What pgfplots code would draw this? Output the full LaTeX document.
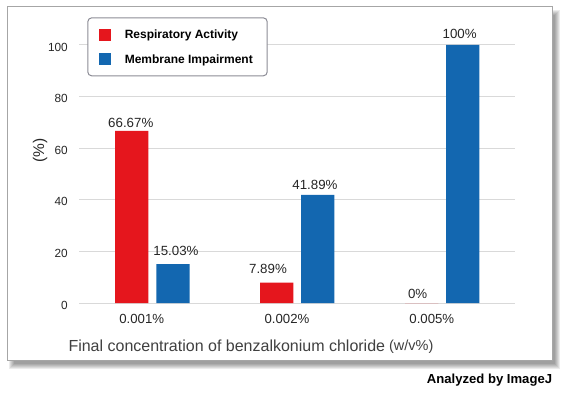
\documentclass[border=0pt]{standalone}
\usepackage{pgfplots}
\pgfplotsset{compat=1.18}
\usepackage{fontspec}
\setmainfont{Liberation Sans}
\definecolor{barred}{HTML}{E5161D}
\definecolor{barblue}{HTML}{1367B0}
\definecolor{gridgray}{HTML}{D9D9D9}
\definecolor{framegray}{HTML}{A6A6A6}
\definecolor{legframe}{HTML}{8C8C96}
\definecolor{txt}{HTML}{262626}
\definecolor{xlab}{HTML}{404040}
\begin{document}
\begin{tikzpicture}[x=1bp,y=1bp]
\useasboundingbox (0,0) rectangle (564,395);
% drop shadow of the frame
\foreach \r in {3,2,1,0,-1,-2}{
  \fill[black,opacity=0.075] (12-\r,29-\r) rectangle (557+\r,382+\r);
}
\fill[white] (7,35) rectangle (552,388);
\draw[framegray,line width=1bp] (7,35) rectangle (552,388);
\begin{axis}[
  at={(79bp,92bp)}, anchor=south west,
  scale only axis, width=436bp, height=258bp,
  xmin=79, xmax=515, ymin=0, ymax=100,
  clip=false,
  axis line style={draw=none},
  major tick length=0pt,
  ytick={0,20,...,100},
  ymajorgrids,
  grid style={gridgray,line width=1bp},
  xtick={141.7,287,431.8},
  xticklabels={0.001\%,0.002\%,0.005\%},
  /pgf/number format/assume math mode=true,
  yticklabel style={font=\fontsize{11.8bp}{14bp}\selectfont, text=txt, inner sep=0pt, xshift=-11bp, yshift=-2bp},
  xticklabel style={font=\fontsize{13.2bp}{15bp}\selectfont, text=txt, inner sep=0pt, yshift=-11.5bp},
  xlabel={Final concentration of benzalkonium chloride\hspace{4bp}\raisebox{1.5bp}{\fontsize{14.5bp}{16bp}\selectfont(w/v\%)}},
  every axis x label/.style={at={(axis cs:65,-18.8)}, anchor=base west, font=\fontsize{16bp}{18bp}\selectfont, text=xlab},
  ylabel={(\%)},
  every axis y label/.style={at={(axis cs:40,59.0)}, anchor=center, rotate=90, font=\fontsize{15.5bp}{17bp}\selectfont, text=txt},
  legend cell align=left,
  legend style={at={(axis description cs:0.019,1.1074)}, anchor=north west,
    draw=legframe, line width=1bp, rounded corners=4bp,
    inner xsep=11.7bp, inner ysep=10.8bp, row sep=12.5bp,
    font=\bfseries\fontsize{12bp}{14bp}\selectfont,
    nodes={inner sep=0pt, text depth=0pt}},
]
\addplot[ybar, bar width=33.3, fill=barred, draw=none,
  legend image code/.code={\fill[barred, sharp corners] (0bp,-6bp) rectangle (12bp,6bp); \path (25.3bp,0bp);}]
  coordinates {(131.7,66.67) (276.7,7.89) (421.7,0)};
\addlegendentry{Respiratory Activity}
\addplot[ybar, bar width=33.3, fill=barblue, draw=none,
  legend image code/.code={\fill[barblue, sharp corners] (0bp,-6bp) rectangle (12bp,6bp); \path (25.3bp,0bp);}]
  coordinates {(173,15.03) (317.7,41.89) (462.7,100)};
\addlegendentry{Membrane Impairment\hspace*{2.7bp}}
\begin{scope}[every node/.style={font=\fontsize{13.3bp}{15bp}\selectfont, text=txt, anchor=center, inner sep=0pt}]
\node at (axis cs:130.8,69.9) {66.67\%};
\node at (axis cs:176,20.3) {15.03\%};
\node at (axis cs:268,13.1) {7.89\%};
\node at (axis cs:315,45.7) {41.89\%};
\node at (axis cs:417.7,3.5) {0\%};
\node at (axis cs:459.6,104.3) {100\%};
\end{scope}
\end{axis}
\node[anchor=base east, font=\bfseries\fontsize{13.1bp}{15bp}\selectfont, inner sep=0pt] at (552.3,11.5) {Analyzed by ImageJ};
\end{tikzpicture}
\end{document}
